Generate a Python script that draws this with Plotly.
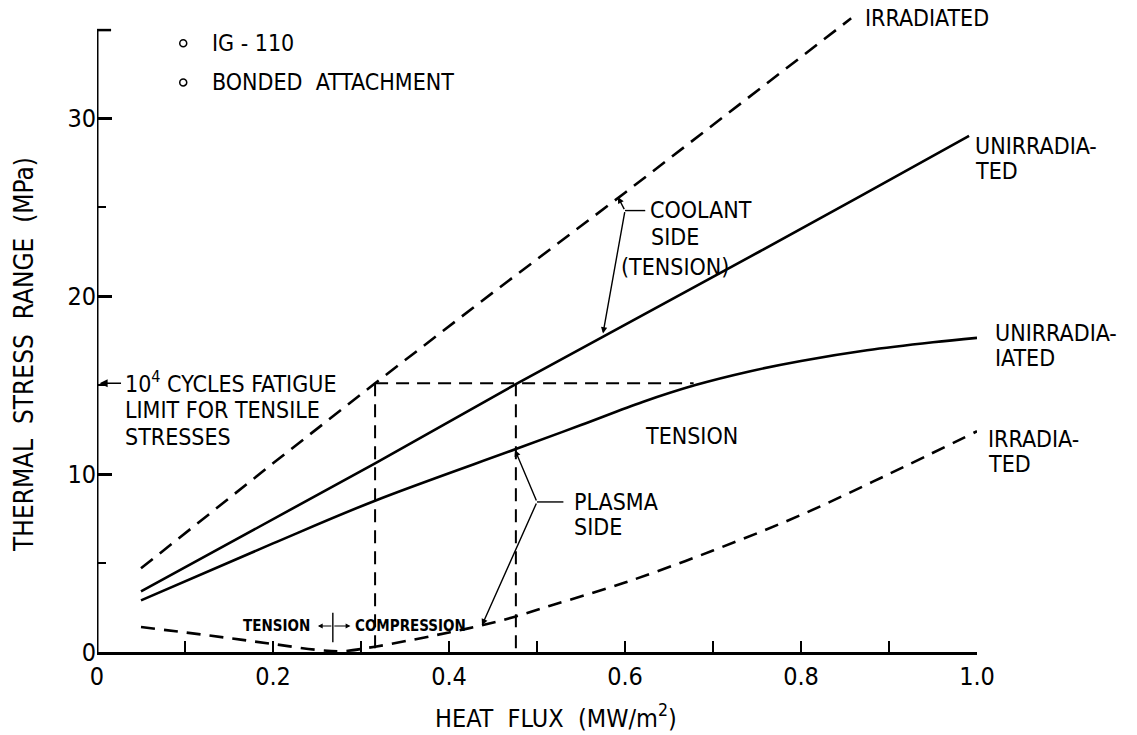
import plotly.graph_objects as go

# Heat flux (MW/m^2) and thermal stress range (MPa) for IG-110, bonded attachment
coolant_irr_x = [0.05, 0.2, 0.316, 0.45, 0.6, 0.75, 0.857]
coolant_irr_y = [4.7, 10.6, 15.1, 20.2, 25.8, 31.5, 35.6]

coolant_unirr_x = [0.05, 0.316, 0.476, 0.575, 0.753, 0.867, 0.991]
coolant_unirr_y = [3.4, 10.6, 15.05, 17.7, 22.5, 25.6, 29.0]

plasma_unirr_x = [0.05, 0.2, 0.316, 0.476, 0.55, 0.62, 0.68, 0.74, 0.8, 0.875, 0.95, 1.0]
plasma_unirr_y = [2.9, 6.1, 8.5, 11.4, 12.75, 14.05, 15.0, 15.75, 16.35, 16.95, 17.4, 17.65]

plasma_irr_x = [0.05, 0.1, 0.15, 0.2, 0.25, 0.28, 0.316, 0.36, 0.4, 0.4375,
                0.476, 0.515, 0.6, 0.7, 0.8, 0.9, 1.0]
plasma_irr_y = [1.4, 1.1, 0.78, 0.45, 0.12, 0.05, 0.3, 0.7, 1.1, 1.5,
                2.0, 2.6, 3.9, 5.7, 7.7, 10.0, 12.4]

# 10^4-cycle fatigue limit and the heat flux where each curve reaches it
fatigue_limit = 15.1
limit_flux = [0.316, 0.476, 0.678]

x_tick_vals = [0, 0.2, 0.4, 0.6, 0.8, 1.0]
x_tick_text = ["0", "0.2", "0.4", "0.6", "0.8", "1.0"]
x_minor_vals = [0.1, 0.3, 0.5, 0.7, 0.9]
y_tick_vals = [0, 10, 20, 30]
y_minor_vals = [5, 15, 25]

Y_MAX = 36.63
FONT = "DejaVu Sans Condensed, DejaVu Sans, sans-serif"
INK = "black"

fig = go.Figure()

def curve(x, y, dash=None, width=2.6, shape="linear"):
    fig.add_trace(go.Scatter(
        x=x, y=y, mode="lines", showlegend=False, hoverinfo="skip",
        line=dict(color=INK, width=width, dash=dash, shape=shape),
        cliponaxis=False))

curve(coolant_irr_x, coolant_irr_y, dash="15px,9px")
curve(coolant_unirr_x, coolant_unirr_y)
curve(plasma_unirr_x, plasma_unirr_y, shape="spline")
curve(plasma_irr_x, plasma_irr_y, dash="14px,9px", shape="spline")

# fatigue-limit construction lines
curve([limit_flux[0], limit_flux[2]], [fatigue_limit, fatigue_limit], dash="13px,8px", width=2)
curve([limit_flux[0], limit_flux[0]], [fatigue_limit, 0], dash="13px,8px", width=2)
curve([limit_flux[1], limit_flux[1]], [fatigue_limit, 0], dash="13px,8px", width=2)

y_top = 34.94
shapes = [
    # y axis line with the closing tick at its top
    dict(type="line", xref="x", yref="y", x0=0, x1=0, y0=0, y1=y_top,
         line=dict(color=INK, width=3)),
    dict(type="line", xref="x", yref="y", x0=0, x1=0.016, y0=y_top, y1=y_top,
         line=dict(color=INK, width=2.5)),
    # legend bullets
    dict(type="circle", xref="x", yref="y", xsizemode="pixel", ysizemode="pixel",
         xanchor=0.098, yanchor=34.2, x0=-3.5, x1=3.5, y0=-3.5, y1=3.5,
         line=dict(color=INK, width=1.5)),
    dict(type="circle", xref="x", yref="y", xsizemode="pixel", ysizemode="pixel",
         xanchor=0.098, yanchor=32.0, x0=-3.5, x1=3.5, y0=-3.5, y1=3.5,
         line=dict(color=INK, width=1.5)),
    # leader lines to the labels
    dict(type="line", xref="x", yref="y", x0=0.600, x1=0.623, y0=24.8, y1=24.8,
         line=dict(color=INK, width=1.4)),
    dict(type="line", xref="x", yref="y", x0=0.500, x1=0.530, y0=8.43, y1=8.43,
         line=dict(color=INK, width=1.4)),
    dict(type="line", xref="x", yref="y", x0=0.268, x1=0.268, y0=0.55, y1=2.2,
         line=dict(color=INK, width=1.4)),
]

annotations = []

def text(x, y, s, size=23, anchor="left", bold=False, angle=0):
    # x in plot-width fractions (axis spans 0..1), y in MPa units
    annotations.append(dict(
        x=x, y=y / Y_MAX, xref="paper", yref="paper", text=s, showarrow=False,
        xanchor=anchor, yanchor="middle", textangle=angle,
        font=dict(family=FONT, size=size, color=INK,
                  weight="bold" if bold else "normal")))

def arrow(x0, y0, x1, y1, width=1.4, head=2, size=1.0):
    annotations.append(dict(
        x=x1, y=y1, ax=x0, ay=y0, xref="x", yref="y", axref="x", ayref="y",
        text="", showarrow=True, arrowhead=head, arrowsize=size,
        arrowwidth=width, arrowcolor=INK))

text(0.128, 34.2, "IG - 110")
text(0.128, 32.0, "BONDED  ATTACHMENT")

text(0.870, 35.6, "IRRADIATED")
text(0.995, 28.45, "UNIRRADIA-")
text(0.995, 27.05, "TED")
text(1.018, 17.92, "UNIRRADIA-")
text(1.018, 16.52, "IATED")
text(1.010, 11.97, "IRRADIA-")
text(1.010, 10.57, "TED")

text(0.626, 24.83, "COOLANT")
text(0.627, 23.3, "SIDE")
text(0.593, 21.63, "(TENSION)")
arrow(0.600, 24.8, 0.592, 25.56, size=0.9)
arrow(0.600, 24.8, 0.575, 17.9, size=0.9)

text(0.676, 12.13, "TENSION", anchor="center")

text(0.540, 8.43, "PLASMA")
text(0.540, 7.02, "SIDE")
arrow(0.500, 8.43, 0.475, 11.35, size=0.9)
arrow(0.500, 8.43, 0.4375, 1.5, size=0.9)

text(0.0295, 15.17, "10<sup>4</sup> CYCLES FATIGUE")
text(0.0295, 13.6, "LIMIT FOR TENSILE")
text(0.0295, 12.08, "STRESSES")
arrow(0.029, 15.1, 0.003, 15.1, width=1.6)

text(0.244, 1.46, "TENSION", size=15, anchor="right", bold=True)
text(0.291, 1.46, "COMPRESSION", size=15, bold=True)
arrow(0.268, 1.46, 0.251, 1.46, width=1.2, size=0.8)
arrow(0.268, 1.46, 0.288, 1.46, width=1.2, size=0.8)

# axis titles
text(-0.083, 16.74, "THERMAL\u00a0 STRESS\u00a0 RANGE\u00a0 (MPa)",
     size=26, anchor="center", angle=-90)
text(0.522, -3.6, "HEAT\u00a0 FLUX\u00a0 (MW/m<sup>2</sup>)", size=25, anchor="center")

fig.update_layout(
    width=1137, height=735,
    margin=dict(l=97, r=160, t=0, b=83),
    paper_bgcolor="white", plot_bgcolor="white",
    font=dict(family=FONT, size=24, color=INK),
    shapes=shapes, annotations=annotations,
    xaxis=dict(range=[0, 1.0], showgrid=False, zeroline=False,
               showline=True, linecolor=INK, linewidth=3,
               ticks="inside", ticklen=11, tickwidth=2, tickcolor=INK,
               tickvals=x_tick_vals, ticktext=x_tick_text,
               tickfont=dict(family=FONT, size=25, color=INK),
               minor=dict(tickvals=x_minor_vals, ticks="inside", ticklen=11,
                          tickwidth=2, tickcolor=INK, showgrid=False)),
    yaxis=dict(range=[0, Y_MAX], showgrid=False, zeroline=False,
               showline=False,
               ticks="inside", ticklen=15, tickwidth=2.5, tickcolor=INK,
               tickvals=y_tick_vals, ticktext=[str(v) for v in y_tick_vals],
               tickfont=dict(family=FONT, size=25, color=INK),
               minor=dict(tickvals=y_minor_vals, ticks="inside", ticklen=9,
                          tickwidth=2, tickcolor=INK, showgrid=False)),
)

fig.write_html("out.html")
